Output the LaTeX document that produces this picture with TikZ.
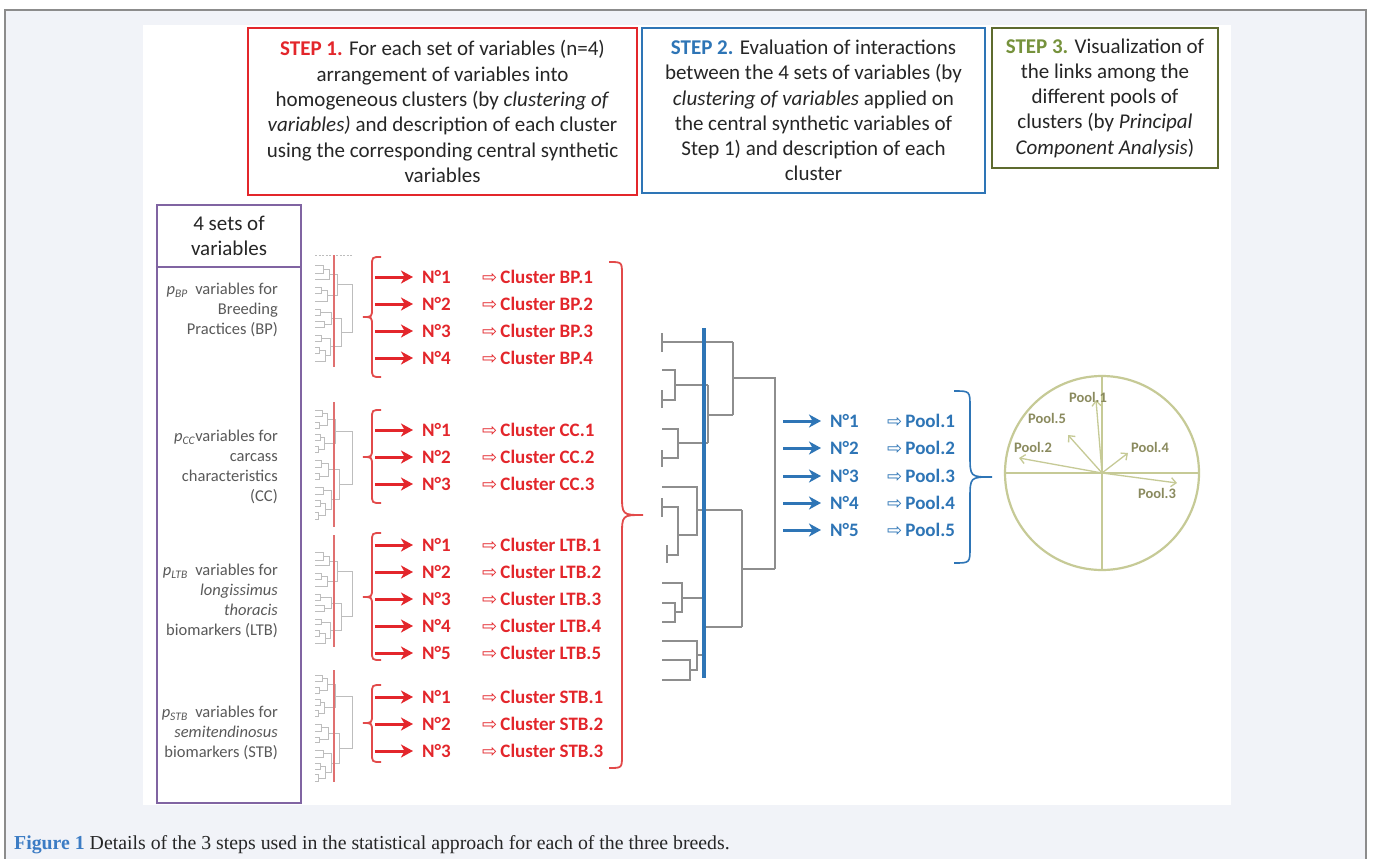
\documentclass[tikz,border=0pt]{standalone}
\usepackage{fontspec}
\setmainfont{Carlito}
\newfontfamily\symfont{DejaVu Sans}
\newfontfamily\capfont{Liberation Serif}
\usetikzlibrary{arrows.meta}
\definecolor{stepred}{HTML}{E3262B}
\definecolor{bracered}{HTML}{E24A4A}
\definecolor{stepblue}{HTML}{2E75B6}
\definecolor{olivedark}{HTML}{5E6B2E}
\definecolor{olivetext}{HTML}{76923C}
\definecolor{olivelight}{HTML}{C6CA96}
\definecolor{poolgray}{HTML}{8A8A5E}
\definecolor{purplebox}{HTML}{8064A2}
\definecolor{labelgray}{HTML}{595959}
\definecolor{txt}{HTML}{262626}
\definecolor{dendgray}{HTML}{8E8E8E}
\definecolor{dendlight}{HTML}{BDBDBD}
\definecolor{redline}{HTML}{E07070}
\definecolor{bgpanel}{HTML}{F1F3F8}
\definecolor{framegray}{HTML}{8C8C8C}
\definecolor{capblue}{HTML}{3C7CC4}
% #1 style, #2 end x, #3 body x, #4 tip x, #5 y top, #6 y tip, #7 y bottom
\newcommand{\drawbrace}[7]{\draw[#1] (#2,#5) .. controls (#3,#5) .. (#3,{#5+abs(#2-#3)}) -- (#3,{#6-abs(#3-#4)}) .. controls (#3,#6) .. (#4,#6) .. controls (#3,#6) .. (#3,{#6+abs(#3-#4)}) -- (#3,{#7-abs(#2-#3)}) .. controls (#3,#7) .. (#2,#7);}
\tikzset{
  dendA/.pic={
    \draw[smalldend] (0,8)--(8,8)--(8,16)--(0,16) (8,12)--(14,12)--(14,22)--(0,22)
      (0,30)--(6,30)--(6,36)--(0,36) (6,33)--(12,33)--(12,44)--(0,44)
      (14,17)--(22,17)--(22,38.5)--(12,38.5)
      (0,52)--(5,52)--(5,58)--(0,58) (0,64)--(9,64)--(9,70)--(0,70)
      (5,55)--(16,55)--(16,67)--(9,67)
      (0,78)--(6,78)--(6,84)--(0,84) (0,90)--(4,90)--(4,96)--(0,96)
      (4,93)--(10,93)--(10,104)--(0,104) (6,81)--(15,81)--(15,98.5)--(10,98.5)
      (16,61)--(26,61)--(26,89.75)--(15,89.75)
      (22,27.75)--(37,27.75)--(37,75.4)--(26,75.4);
  },
  dendB/.pic={
    \draw[smalldend] (0,5)--(7,5)--(7,11)--(0,11) (0,17)--(4,17)--(4,23)--(0,23)
      (7,8)--(12,8)--(12,20)--(4,20)
      (0,29)--(5,29)--(5,35)--(0,35) (0,41)--(3,41)--(3,47)--(0,47)
      (5,32)--(9,32)--(9,44)--(3,44) (12,14)--(20,14)--(20,38)--(9,38)
      (0,55)--(6,55)--(6,62)--(0,62) (0,68)--(4,68)--(4,74)--(0,74)
      (6,58.5)--(13,58.5)--(13,71)--(4,71)
      (0,82)--(8,82)--(8,89)--(0,89) (0,95)--(5,95)--(5,101)--(0,101)
      (0,107)--(3,107)--(3,114)--(0,114) (5,98)--(10,98)--(10,110.5)--(3,110.5)
      (8,85.5)--(16,85.5)--(16,104.25)--(10,104.25)
      (13,64.75)--(24,64.75)--(24,94.9)--(16,94.9)
      (20,26)--(37,26)--(37,79.8)--(24,79.8);
  }
}
\begin{document}
\begin{tikzpicture}[x=1pt,y=-1pt,
  stepbox/.style={draw, line width=2.5pt, align=center, inner sep=0pt, text=txt,
    font=\fontsize{21}{25.3}\selectfont},
  sidelab/.style={anchor=east, align=right, inner sep=0pt, text=labelgray,
    font=\fontsize{16.5}{20}\selectfont},
  nlab/.style={anchor=base west, inner sep=1pt, font=\fontsize{19}{22}\selectfont\bfseries},
  redarrow/.style={draw=stepred, line width=3pt, -{Stealth[length=12pt,width=13pt,inset=3.5pt]}},
  bluearrow/.style={draw=stepblue, line width=3pt, -{Stealth[length=12pt,width=13pt,inset=3.5pt]}},
  smalldend/.style={draw=dendlight, line width=0.9pt},
  bigdend/.style={draw=dendgray, line width=1.4pt},
  redbrace/.style={draw=bracered, line width=1.8pt},
  bluebrace/.style={draw=stepblue, line width=1.6pt},
  poolarrow/.style={draw=olivelight, line width=1.3pt, -{Straight Barb[length=5pt,width=9pt]}},
  poollab/.style={inner sep=0pt, text=poolgray, font=\fontsize{14.5}{16}\selectfont\bfseries}
]
\useasboundingbox (0,0) rectangle (1373,859);
\fill[white] (0,0) rectangle (1373,859);
\fill[bgpanel] (5,10) rectangle (1366,859);
\draw[framegray, line width=1.2pt] (5,859) -- (5,10) -- (1366,10) -- (1366,859);
\fill[white] (143,25) rectangle (1231,805);

% step boxes
\node[stepbox, draw=stepred, minimum width=389pt, minimum height=167pt] (s1) at (442.5,111.5)
  {\textcolor{stepred}{\bfseries STEP 1.} For each set of variables (n=4)\\
   arrangement of variables into\\
   homogeneous clusters (by \textit{clustering of}\\
   \textit{variables)} and description of each cluster\\
   using the corresponding central synthetic\\
   variables};
\node[stepbox, draw=stepblue, minimum width=343pt, minimum height=165pt] (s2) at (813.5,110.5)
  {\textcolor{stepblue}{\bfseries STEP 2.} Evaluation of interactions\\
   between the 4 sets of variables (by\\
   \textit{clustering of variables} applied on\\
   the central synthetic variables of\\
   Step 1) and description of each\\
   cluster};
\node[stepbox, draw=olivedark, minimum width=226pt, minimum height=140pt] (s3) at (1105,98)
  {\textcolor{olivetext}{\bfseries STEP 3.} Visualization of\\
   the links among the\\
   different pools of\\
   clusters (by \textit{Principal}\\
   \textit{Component Analysis})};

% sets of variables box
\node[draw=purplebox, line width=2.5pt, minimum width=144pt, minimum height=598pt, inner sep=0pt] (sets) at (229,504) {};
\draw[purplebox, line width=2.5pt] (sets.west |- 0,267) -- (sets.east |- 0,267);
\node[align=center, inner sep=0pt, text=txt, font=\fontsize{21}{25}\selectfont] (hdr) at (229,236) {4 sets of\\variables};
\node[sidelab] (lBP) at (278,310) {{\itshape p}\textsubscript{\itshape BP}\ \ variables for\\Breeding\\Practices (BP)};
\node[sidelab] (lCC) at (278,467) {{\itshape p}\textsubscript{\itshape CC}variables for\\carcass\\characteristics\\(CC)};
\node[sidelab] (lLTB) at (278,601) {{\itshape p}\textsubscript{\itshape LTB}\ \ variables for\\\textit{longissimus}\\\textit{thoracis}\\biomarkers (LTB)};
\node[sidelab] (lSTB) at (278,733) {{\itshape p}\textsubscript{\itshape STB}\ \ variables for\\\textit{semitendinosus}\\biomarkers (STB)};

% small dendrograms
\draw[dendlight, line width=0.9pt, dash pattern=on 2pt off 1.5pt] (315,255) -- (352,255);
\pic at (315,257) {dendA};
\pic at (315,405) {dendB};
\pic[yscale=0.95] at (315,545) {dendA};
\pic[yscale=0.97] at (315,671) {dendB};
\draw[redline, line width=1.3pt] (334,255) -- (334,367);
\draw[redline, line width=1.3pt] (334,402) -- (334,527);
\draw[redline, line width=1.3pt] (334,535) -- (334,647);
\draw[redline, line width=1.3pt] (334,670) -- (334,782);

% red braces
\drawbrace{redbrace}{381}{372}{363}{257}{317}{377}
\drawbrace{redbrace}{381}{372}{363}{410}{457}{503}
\drawbrace{redbrace}{381}{372}{363}{533}{597}{660}
\drawbrace{redbrace}{381}{372}{363}{685}{723}{762}

% red arrows and cluster labels
\foreach \y/\n/\c [count=\i] in {277/1/BP.1, 304/2/BP.2, 331/3/BP.3, 358/4/BP.4,
   430/1/CC.1, 457/2/CC.2, 484/3/CC.3,
   545/1/LTB.1, 572/2/LTB.2, 599/3/LTB.3, 626/4/LTB.4, 653/5/LTB.5,
   697/1/STB.1, 724/2/STB.2, 751/3/STB.3} {
  \coordinate (ra\i) at (375,\y);
  \node[nlab, text=stepred] (rn\i) at (421,\y+6.5) {N°\n};
  \draw[redarrow, shorten >=8pt] (ra\i) -- (ra\i -| rn\i.west);
  \node[nlab, text=stepred] (rc\i) at (481,\y+6.5) {{\symfont\mdseries\fontsize{18}{20}\selectfont ⇨}\,Cluster \c};
}

% big red brace
\drawbrace{redbrace}{609}{622}{643}{262}{515}{768}

% central dendrogram
\draw[bigdend] (662,333)--(662,352) (662,342)--(733,342);
\draw[bigdend] (662,370)--(675,370)--(675,400)--(662,400) (662,390)--(662,408) (675,385)--(708,385);
\draw[bigdend] (662,429)--(678,429)--(678,458)--(662,458) (662,450)--(662,467) (678,443)--(708,443);
\draw[bigdend] (708,385)--(708,443) (708,415)--(733,415) (733,342)--(733,415) (733,378)--(775,378)--(775,569);
\draw[bigdend] (662,487)--(697,487)--(697,535)--(678,535) (662,507)--(678,507)--(678,555)--(667,555)
  (662,498)--(662,517) (667,545)--(667,563) (697,510)--(742,510);
\draw[bigdend] (662,583)--(682,583)--(682,612)--(675,612) (662,603)--(675,603)--(675,622)--(662,622) (682,598)--(703,598);
\draw[bigdend] (662,641)--(697,641)--(697,670)--(690,670) (662,660)--(690,660)--(690,680)--(662,680) (697,655)--(703,655);
\draw[bigdend] (703,598)--(703,655) (703,627)--(742,627) (742,510)--(742,627) (742,569)--(775,569);
\draw[stepblue, line width=4pt] (704,328) -- (704,678);

% blue arrows and pool labels
\foreach \y/\n [count=\i] in {421/1, 448/2, 476/3, 503/4, 530/5} {
  \coordinate (ba\i) at (783,\y);
  \node[nlab, text=stepblue] (bn\i) at (829,\y+6.5) {N°\n};
  \draw[bluearrow, shorten >=8pt] (ba\i) -- (ba\i -| bn\i.west);
  \node[nlab, text=stepblue] (bp\i) at (886,\y+6.5) {{\symfont\mdseries\fontsize{18}{20}\selectfont ⇨}\,Pool.\n};
}
\drawbrace{bluebrace}{954}{970}{992}{391}{477}{563}

% PCA circle
\node[circle, draw=olivelight, line width=2.2pt, minimum size=194pt, inner sep=0pt] (pca) at (1102,473) {};
\draw[olivelight, line width=1.5pt] (pca.west) -- (pca.east) (pca.north) -- (pca.south);
\coordinate (t1) at (1096,400);
\coordinate (t5) at (1068,435);
\coordinate (t2) at (1019,458);
\coordinate (t4) at (1128,453);
\coordinate (t3) at (1177,483);
\foreach \k in {1,...,5} {\draw[poolarrow] (pca.center) -- (t\k);}
\node[poollab] (p1) at (1088,397) {Pool.1};
\node[poollab] (p5) at (1047,418) {Pool.5};
\node[poollab] (p2) at (1033,447) {Pool.2};
\node[poollab] (p4) at (1150,447) {Pool.4};
\node[poollab] (p3) at (1157,493) {Pool.3};

% caption
\node[anchor=base west, inner sep=0pt, text=txt, font=\capfont\fontsize{19.8}{22}\selectfont] (cap) at (14,849)
  {\textcolor{capblue}{\bfseries Figure 1} Details of the 3 steps used in the statistical approach for each of the three breeds.};
\end{tikzpicture}
\end{document}
